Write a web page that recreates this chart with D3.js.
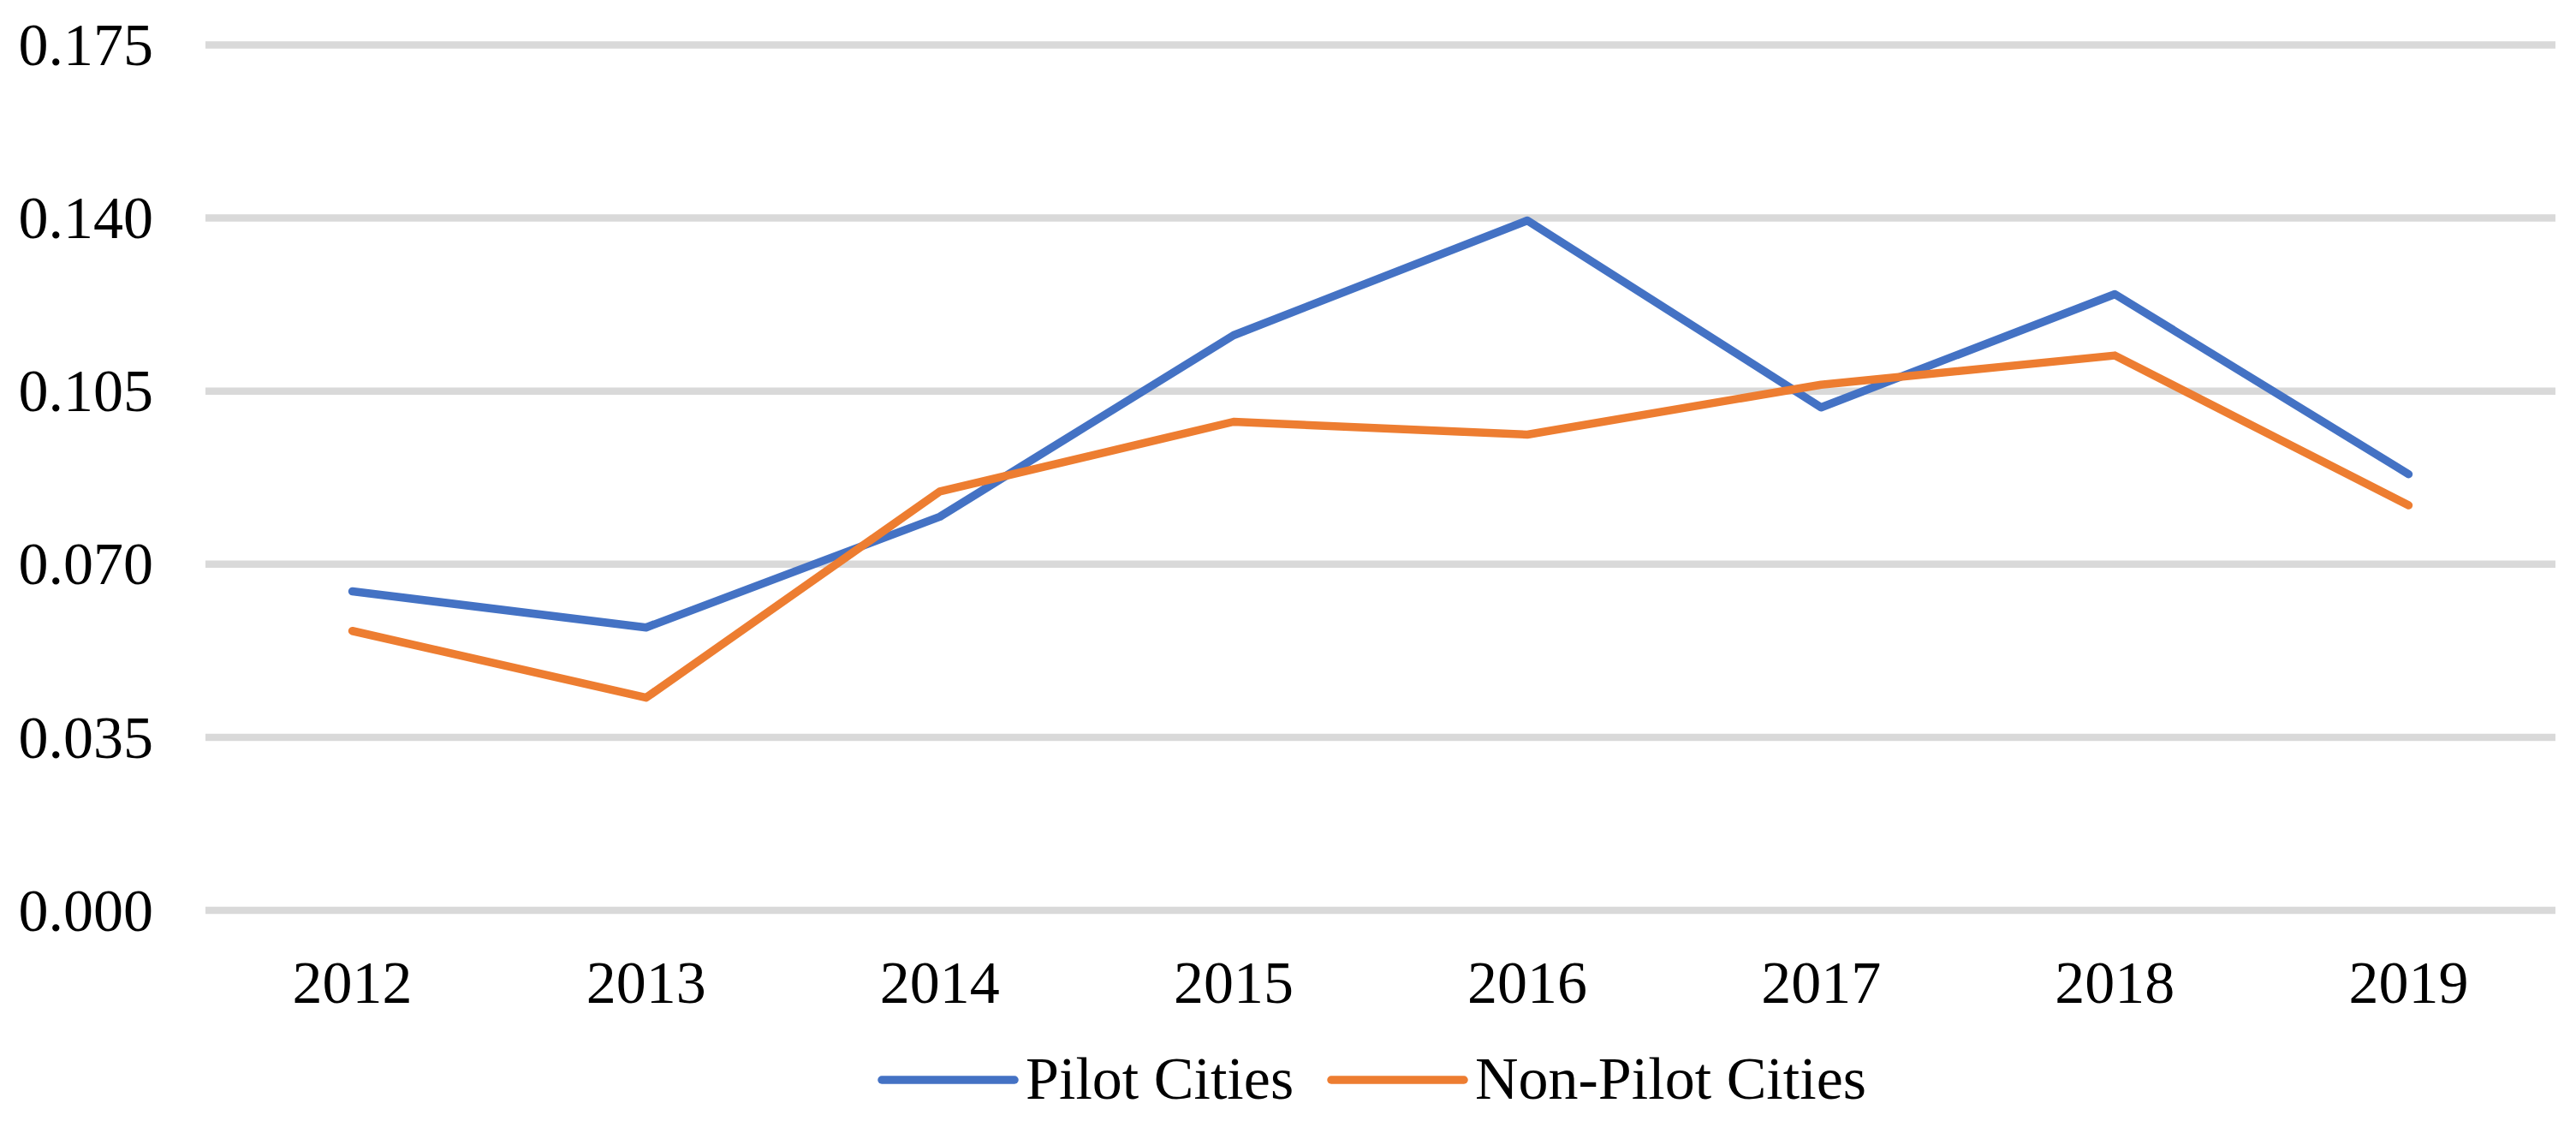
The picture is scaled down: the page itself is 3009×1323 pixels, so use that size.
<!DOCTYPE html>
<html>
<head>
<meta charset="utf-8">
<script src="https://cdn.jsdelivr.net/npm/d3@7"></script>
<style>
  html, body { margin: 0; padding: 0; background: #ffffff; }
  svg { display: block; }
  text { font-family: "Liberation Serif", "Times New Roman", "DejaVu Serif", serif; fill: #000000; }
</style>
</head>
<body>
<svg id="chart" width="3009" height="1323"></svg>
<script>
const years = ["2012", "2013", "2014", "2015", "2016", "2017", "2018", "2019"];
const pilotCities = [0.0645, 0.0572, 0.0796, 0.1163, 0.1395, 0.1017, 0.1246, 0.0882];
const nonPilotCities = [0.0565, 0.0430, 0.0847, 0.0988, 0.0962, 0.1063, 0.1122, 0.0819];
const yTicks = [0.000, 0.035, 0.070, 0.105, 0.140, 0.175];
const seriesNames = ["Pilot Cities", "Non-Pilot Cities"];
const seriesColors = ["#4472C4", "#ED7D31"];

const svg = d3.select("#chart");
const plot = { left: 240, right: 2985, top: 52.5, bottom: 1063 };
const fontSize = 70;

const x = d3.scaleBand().domain(years).range([plot.left, plot.right]).padding(0);
const y = d3.scaleLinear().domain([0, 0.175]).range([plot.bottom, plot.top]);

// gridlines
svg.append("g").selectAll("line").data(yTicks).join("line")
  .attr("x1", plot.left).attr("x2", plot.right)
  .attr("y1", d => y(d)).attr("y2", d => y(d))
  .attr("stroke", "#D9D9D9").attr("stroke-width", 8.5);

// y axis labels
const yAxis = d3.axisLeft(y).tickValues(yTicks).tickFormat(d3.format(".3f")).tickSize(0).tickPadding(0);
const yg = svg.append("g").attr("transform", `translate(${179},0)`).call(yAxis);
yg.select(".domain").remove();
yg.selectAll("text").attr("font-size", fontSize).attr("dy", "0.33em")
  .style("font-family", '"Liberation Serif", "Times New Roman", serif').attr("fill", "#000");

// x axis labels
const xAxis = d3.axisBottom(x).tickSize(0).tickPadding(0);
const xg = svg.append("g").attr("transform", `translate(0,${1171})`).call(xAxis);
xg.select(".domain").remove();
xg.selectAll("text").attr("font-size", fontSize).attr("dy", 0).attr("y", 0)
  .style("font-family", '"Liberation Serif", "Times New Roman", serif').attr("fill", "#000");

// lines
const line = d3.line().x((d, i) => x(years[i]) + x.bandwidth() / 2).y(d => y(d));
[pilotCities, nonPilotCities].forEach((s, k) => {
  svg.append("path").datum(s)
    .attr("d", line)
    .attr("fill", "none")
    .attr("stroke", seriesColors[k])
    .attr("stroke-width", 9.5)
    .attr("stroke-linejoin", "round")
    .attr("stroke-linecap", "round");
});

// legend
const legendItems = [
  { name: seriesNames[0], color: seriesColors[0], x0: 1030 },
  { name: seriesNames[1], color: seriesColors[1], x0: 1555 }
];
const lg = svg.append("g");
legendItems.forEach(it => {
  lg.append("line")
    .attr("x1", it.x0).attr("x2", it.x0 + 155)
    .attr("y1", 1261).attr("y2", 1261)
    .attr("stroke", it.color).attr("stroke-width", 9.5).attr("stroke-linecap", "round");
  lg.append("text")
    .attr("x", it.x0 + 168).attr("y", 1283)
    .attr("font-size", fontSize)
    .text(it.name);
});
</script>
</body>
</html>
